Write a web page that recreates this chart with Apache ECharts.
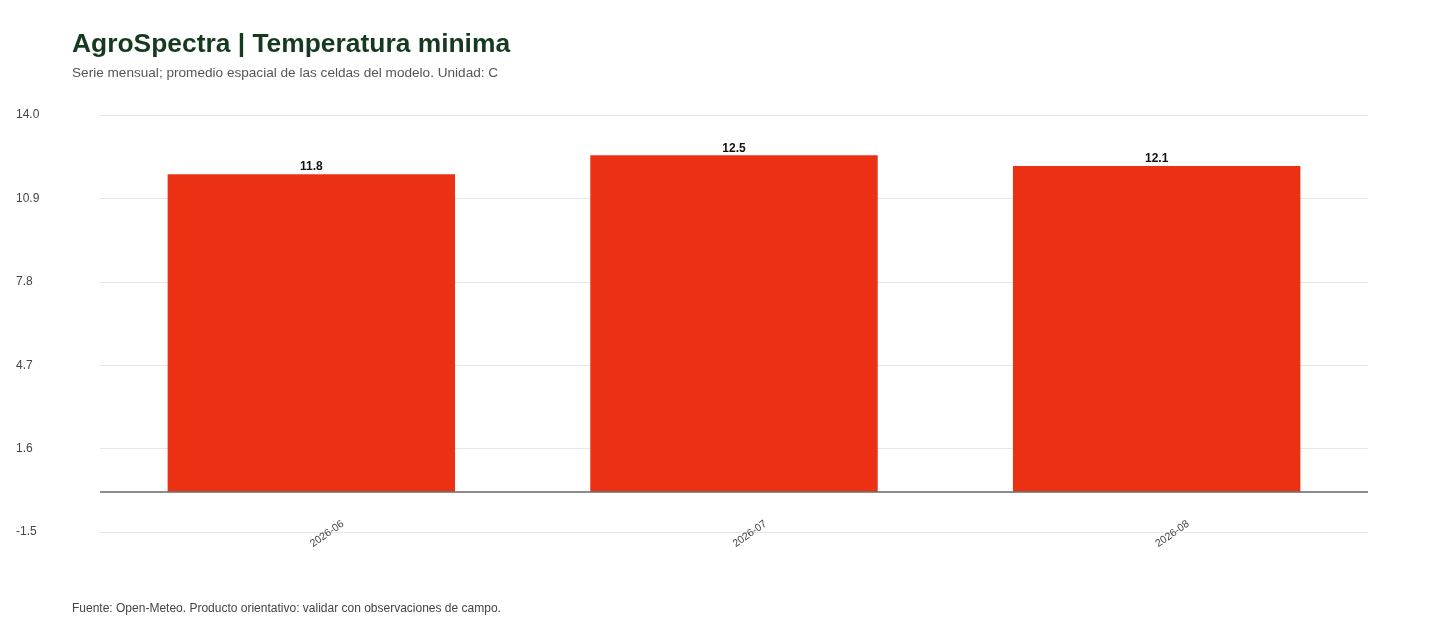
<!DOCTYPE html>
<html>
<head>
<meta charset="utf-8">
<script src="https://cdn.jsdelivr.net/npm/echarts@6/dist/echarts.min.js"></script>
<style>
  html, body { margin: 0; padding: 0; background: #fff; }
  #chart { width: 1440px; height: 640px; }
</style>
</head>
<body>
<div id="chart"></div>
<script>
const months = ['2026-06', '2026-07', '2026-08'];
const tminValues = [11.8, 12.5, 12.1];
const yMin = -1.5;
const yMax = 14.0;
const yStep = 3.1;

const chart = echarts.init(document.getElementById('chart'));

chart.setOption({
  backgroundColor: '#ffffff',
  textStyle: { fontFamily: 'Liberation Sans, Arial, sans-serif' },
  title: [
    {
      text: 'AgroSpectra | Temperatura minima',
      left: 67, top: 27,
      textStyle: { fontSize: 26.4, fontWeight: 'bold', color: '#163a20' }
    },
    {
      text: 'Serie mensual; promedio espacial de las celdas del modelo. Unidad: C',
      left: 67, top: 61,
      textStyle: { fontSize: 13.6, fontWeight: 'normal', color: '#555555' }
    },
    {
      text: 'Fuente: Open-Meteo. Producto orientativo: validar con observaciones de campo.',
      left: 67, top: 598,
      textStyle: { fontSize: 12, fontWeight: 'normal', color: '#444444' }
    }
  ],
  grid: { left: 100, right: 72, top: 115, bottom: 108 },
  xAxis: {
    type: 'category',
    data: months,
    axisLine: { show: false, onZero: false },
    axisTick: { show: false },
    axisLabel: {
      rotate: 35,
      align: 'left',
      verticalAlign: 'middle',
      margin: 13,
      fontSize: 10.5,
      color: '#444444'
    }
  },
  yAxis: {
    type: 'value',
    min: yMin,
    max: yMax,
    interval: yStep,
    axisLine: { show: false },
    axisTick: { show: false },
    axisLabel: {
      color: '#444444',
      fontSize: 12,
      margin: 84,
      align: 'left',
      verticalAlign: 'middle',
      padding: [3, 0, 0, 0],
      formatter: v => v.toFixed(1)
    },
    splitLine: { lineStyle: { color: '#e6e6e6', width: 1 } }
  },
  series: [{
    type: 'bar',
    data: tminValues,
    barWidth: '68%',
    itemStyle: { color: '#ec3014' },
    label: {
      show: true,
      position: 'top',
      distance: 1,
      fontSize: 12,
      fontWeight: 'bold',
      color: '#111111',
      formatter: p => p.value.toFixed(1)
    },
    markLine: {
      silent: true,
      symbol: 'none',
      label: { show: false },
      lineStyle: { color: '#666666', width: 1.5, type: 'solid' },
      data: [{ yAxis: 0 }]
    }
  }]
});
</script>
</body>
</html>
